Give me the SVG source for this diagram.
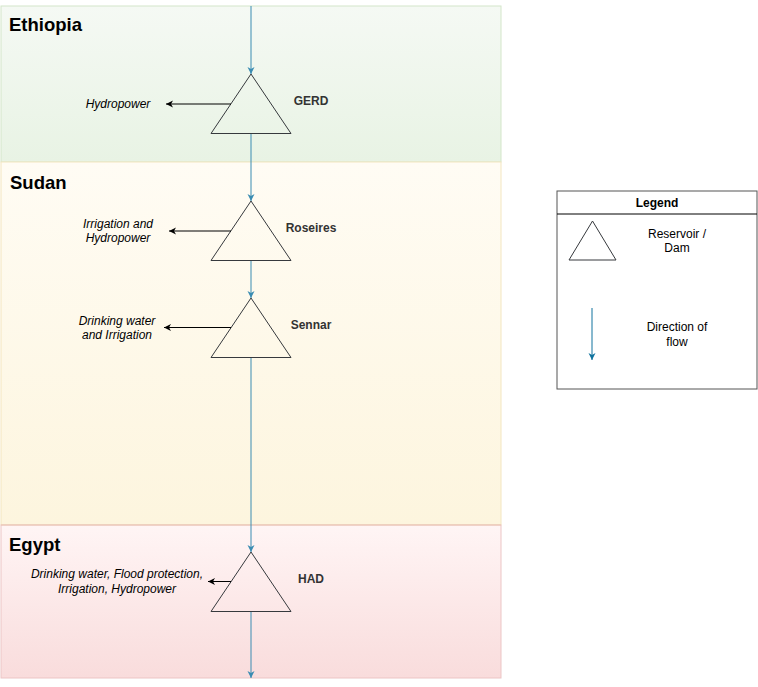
<svg xmlns="http://www.w3.org/2000/svg" width="758" height="687" viewBox="0 0 758 687">
<defs>
<linearGradient id="gEth" x1="0" y1="0" x2="0" y2="1"><stop offset="0" stop-color="#f5f9f4"/><stop offset="1" stop-color="#e8f3e4"/></linearGradient>
<linearGradient id="gSud" x1="0" y1="0" x2="0" y2="1"><stop offset="0" stop-color="#fffcf4"/><stop offset="1" stop-color="#fdf5de"/></linearGradient>
<linearGradient id="gEgy" x1="0" y1="0" x2="0" y2="1"><stop offset="0" stop-color="#fff5f5"/><stop offset="1" stop-color="#f9dcdc"/></linearGradient>
<marker id="aBlue" viewBox="0 0 8 8" refX="7" refY="4" markerWidth="8" markerHeight="8" markerUnits="userSpaceOnUse" orient="auto">
<path d="M0,0.5 L7,4 L0,7.5 L2,4 z" fill="#3a8cb2"/></marker>
<marker id="aLeg" viewBox="0 0 8 8" refX="7" refY="4" markerWidth="8" markerHeight="8" markerUnits="userSpaceOnUse" orient="auto">
<path d="M0,0.5 L7,4 L0,7.5 L2,4 z" fill="#10739e"/></marker>
<marker id="aBlk" viewBox="0 0 8 8" refX="7" refY="4" markerWidth="8" markerHeight="8" markerUnits="userSpaceOnUse" orient="auto">
<path d="M0,0.5 L7,4 L0,7.5 L2,4 z" fill="#000"/></marker>
</defs>
<style>
text{font-family:"Liberation Sans",Arial,Helvetica,sans-serif;}
.title{font-size:18.5px;font-weight:bold;fill:#000;}
.dam{font-size:12px;font-weight:bold;fill:#333;text-anchor:middle;}
.use{font-size:12px;font-style:italic;fill:#000;text-anchor:middle;}
.leg{font-size:12px;fill:#000;text-anchor:middle;}
.tri{fill:none;stroke:#36393d;stroke-width:1;}
.flow{stroke:#3a8cb2;stroke-width:1;fill:none;marker-end:url(#aBlue);}
.out{stroke:#000;stroke-width:1;fill:none;marker-end:url(#aBlk);}
</style>
<g id="ethiopia">
<rect x="1" y="6" width="500" height="156" fill="url(#gEth)" stroke="#d3e6c9"/>
<text class="title" x="9" y="31">Ethiopia</text>
</g>
<g id="sudan">
<rect x="1" y="162" width="500" height="363" fill="url(#gSud)" stroke="#f3e6c0"/>
<text class="title" x="10" y="189">Sudan</text>
</g>
<g id="egypt">
<rect x="1" y="525" width="500" height="153" fill="url(#gEgy)" stroke="#ecc5c5"/>
<line x1="1" y1="525" x2="501" y2="525" stroke="#ebc6b2"/>
<text class="title" x="9" y="551">Egypt</text>
</g>
<g id="gerd">
<polygon class="tri" points="251,74 291,133.5 211,133.5"/>
<text class="dam" x="311" y="105">GERD</text>
<text class="use" x="118" y="108">Hydropower</text>
</g>
<g id="roseires">
<polygon class="tri" points="251,201 291,260.5 211,260.5"/>
<text class="dam" x="311" y="232">Roseires</text>
<text class="use" x="118" y="228">Irrigation and</text>
<text class="use" x="118" y="242">Hydropower</text>
</g>
<g id="sennar">
<polygon class="tri" points="251,298 291,357.5 211,357.5"/>
<text class="dam" x="311" y="329">Sennar</text>
<text class="use" x="117" y="325">Drinking water</text>
<text class="use" x="117" y="339">and Irrigation</text>
</g>
<g id="had">
<polygon class="tri" points="251,552 291,611.5 211,611.5"/>
<text class="dam" x="311" y="583">HAD</text>
<text class="use" x="117" y="578">Drinking water, Flood protection,</text>
<text class="use" x="117" y="593">Irrigation, Hydropower</text>
</g>
<g id="legend">
<rect x="557" y="191" width="200" height="198" fill="#fff" stroke="#555"/>
<line x1="557" y1="214" x2="757" y2="214" stroke="#000"/>
<text class="leg" x="657" y="207" font-weight="bold">Legend</text>
<polygon class="tri" points="592.5,221 616,260 569,260"/>
<text class="leg" x="677" y="238">Reservoir /</text>
<text class="leg" x="677" y="252">Dam</text>
<line x1="592" y1="308" x2="592" y2="360" stroke="#10739e" marker-end="url(#aLeg)"/>
<text class="leg" x="677" y="331">Direction of</text>
<text class="leg" x="677" y="346">flow</text>
</g>
<g id="connectors">
<line class="flow" x1="251" y1="6" x2="251" y2="74"/>
<line class="flow" x1="251" y1="134" x2="251" y2="201"/>
<line class="flow" x1="251" y1="261" x2="251" y2="298"/>
<line class="flow" x1="251" y1="358" x2="251" y2="552"/>
<line class="flow" x1="251" y1="612" x2="251" y2="678"/>
<line class="out" x1="231" y1="104" x2="166" y2="104"/>
<line class="out" x1="231" y1="231" x2="169" y2="231"/>
<line class="out" x1="231" y1="327.5" x2="164" y2="327.5"/>
<line class="out" x1="231" y1="581.5" x2="208" y2="581.5"/>
</g>
</svg>
